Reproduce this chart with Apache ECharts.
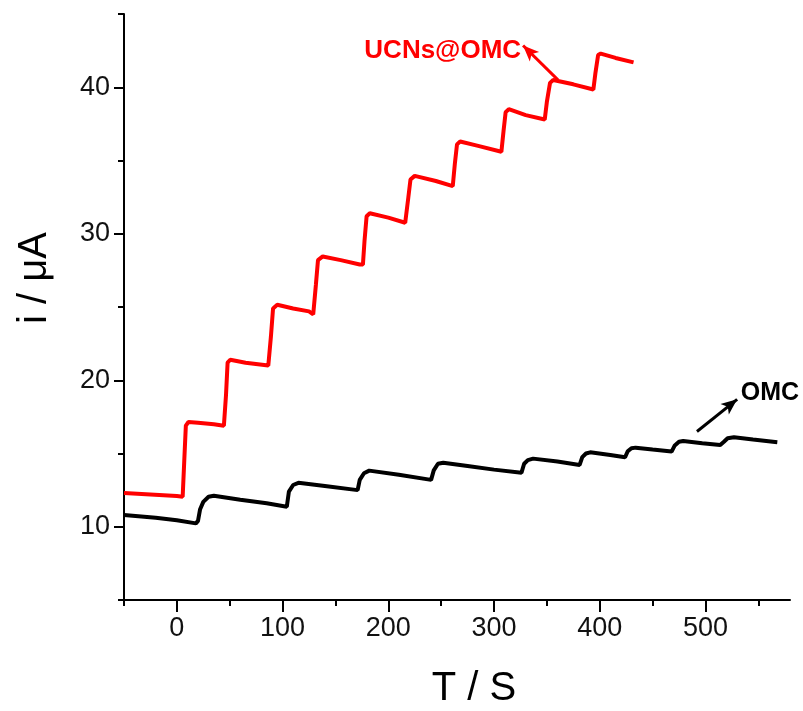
<!DOCTYPE html>
<html>
<head>
<meta charset="utf-8">
<script src="https://cdn.jsdelivr.net/npm/echarts@6/dist/echarts.min.js"></script>
<style>
html,body{margin:0;padding:0;background:#fff;}
#c{width:803px;height:711px;}
</style>
</head>
<body>
<div id="c"></div>
<script>
// ---- data (time in s, current in µA) ----
var ucnsT = [-50,0,5.5,7,8.5,11,20,35,44.5,46.5,48,50.5,65,86.5,89,91,95,110,125,129,131.5,133.5,138,155,173,176,177.5,179.5,182.5,200,216,219,221,225,245,261,263,265,268,285,307,309,311,314,330,348,350,353,356,375,394,396,398.5,401,415,432];
var ucnsI = [12.3,12.1,12.05,14.5,16.9,17.15,17.1,17.0,16.9,19,21.2,21.4,21.2,21.0,23,24.9,25.15,24.9,24.7,24.5,26.5,28.2,28.45,28.2,27.9,27.9,29.5,31.2,31.4,31.1,30.75,32.5,33.7,33.95,33.6,33.25,34.8,36.1,36.3,36.0,35.6,37,38.3,38.5,38.1,37.8,39,40.3,40.5,40.2,39.85,41,42.2,42.3,42.0,41.7];
var omcT = [-50,-20,0,18,20,22,25,30,35,60,85,104,106,110,115,140,171,173,177,182,210,240.5,243,247,252,275,300,326,328.5,332,337,360,381,383.5,387,391,410,424,426.5,430,434,450,468,471,475,479,497,514,517.5,521,527,545,568];
var omcI = [10.8,10.62,10.45,10.23,10.4,11.2,11.7,12.05,12.12,11.85,11.6,11.37,12.4,12.85,13.0,12.78,12.5,13.2,13.65,13.83,13.55,13.2,13.85,14.3,14.37,14.15,13.9,13.69,14.3,14.55,14.65,14.45,14.22,14.75,15.0,15.08,14.9,14.74,15.15,15.36,15.4,15.27,15.13,15.55,15.8,15.85,15.7,15.58,15.8,16.04,16.11,15.95,15.77];
var seriesNames = ['UCNs@OMC','OMC'];
var xMajorTicks = [0,100,200,300,400,500];
var xMinorTicks = [-50,50,150,250,350,450,550];
var yMajorTicks = [10,20,30,40];
var yMinorTicks = [5,15,25,35,45];
// annotation anchors (data coordinates)
var ucnsArrow = [[360.5,40.5],[327.5,42.85]];
var ucnsLabelAt = [251.5,42.5];
var omcArrow = [[492,16.5],[530,18.7]];
var omcLabelAt = [561,19.1];

function zip(a,b){var r=[];for(var i=0;i<a.length;i++)r.push([a[i],b[i]]);return r;}

var FONT = '"Liberation Sans", Arial, sans-serif';
var chart = echarts.init(document.getElementById('c'), null, {renderer:'canvas'});
chart.setOption({
  animation:false,
  backgroundColor:'#fff',
  grid:{left:124, top:14, width:666, height:586, containLabel:false},
  xAxis:[
    {type:'value', min:-50, max:580, position:'bottom',
     axisLine:{show:true, onZero:false, lineStyle:{color:'#000', width:2}},
     axisTick:{show:true, customValues:xMajorTicks, length:12, inside:false, lineStyle:{color:'#000', width:2}},
     axisLabel:{show:true, customValues:xMajorTicks, fontSize:27, fontFamily:FONT, color:'#111', margin:15},
     splitLine:{show:false}},
    {type:'value', min:-50, max:580, position:'bottom',
     axisLine:{show:false, onZero:false},
     axisTick:{show:true, customValues:xMinorTicks, length:6, inside:false, lineStyle:{color:'#000', width:2}},
     axisLabel:{show:false},
     splitLine:{show:false}}
  ],
  yAxis:[
    {type:'value', min:5, max:45, position:'left',
     axisLine:{show:true, onZero:false, lineStyle:{color:'#000', width:2}},
     axisTick:{show:true, customValues:yMajorTicks, length:10, inside:false, lineStyle:{color:'#000', width:2}},
     axisLabel:{show:true, customValues:yMajorTicks, fontSize:27, fontFamily:FONT, color:'#111', margin:14},
     splitLine:{show:false}},
    {type:'value', min:5, max:45, position:'left',
     axisLine:{show:false, onZero:false},
     axisTick:{show:true, customValues:yMinorTicks, length:6, inside:false, lineStyle:{color:'#000', width:2}},
     axisLabel:{show:false},
     splitLine:{show:false}}
  ],
  graphic:[
    {type:'text', x:35, y:278, rotation:Math.PI/2,
     style:{text:'i / μA', font:'40px ' + FONT, fill:'#000', align:'center', verticalAlign:'middle'}},
    {type:'text', x:474, y:689,
     style:{text:'T / S', font:'40px ' + FONT, fill:'#000', align:'center', verticalAlign:'middle'}}
  ],
  series:[
    {name:seriesNames[0], type:'line', xAxisIndex:0, yAxisIndex:0, data:zip(ucnsT,ucnsI),
     showSymbol:false, symbol:'none', smooth:false,
     lineStyle:{color:'#ff0000', width:4}, itemStyle:{color:'#ff0000'}, z:3,
     markLine:{silent:true, symbol:['none','arrow'], symbolSize:[10,16],
       lineStyle:{color:'#ff0000', width:3, type:'solid'}, label:{show:false},
       data:[[{coord:ucnsArrow[0]},{coord:ucnsArrow[1]}]]},
     markPoint:{silent:true, symbol:'circle', symbolSize:0,
       label:{show:true, position:'inside', formatter:seriesNames[0], color:'#ff0000', fontSize:26, fontWeight:'bold', fontFamily:FONT},
       data:[{coord:ucnsLabelAt}]}},
    {name:seriesNames[1], type:'line', xAxisIndex:0, yAxisIndex:0, data:zip(omcT,omcI),
     showSymbol:false, symbol:'none', smooth:false,
     lineStyle:{color:'#000', width:4}, itemStyle:{color:'#000'}, z:2,
     markLine:{silent:true, symbol:['none','arrow'], symbolSize:[10,16],
       lineStyle:{color:'#000', width:3, type:'solid'}, label:{show:false},
       data:[[{coord:omcArrow[0]},{coord:omcArrow[1]}]]},
     markPoint:{silent:true, symbol:'circle', symbolSize:0,
       label:{show:true, position:'inside', formatter:seriesNames[1], color:'#000', fontSize:25, fontWeight:'bold', fontFamily:FONT},
       data:[{coord:omcLabelAt}]}}
  ]
});
</script>
</body>
</html>
